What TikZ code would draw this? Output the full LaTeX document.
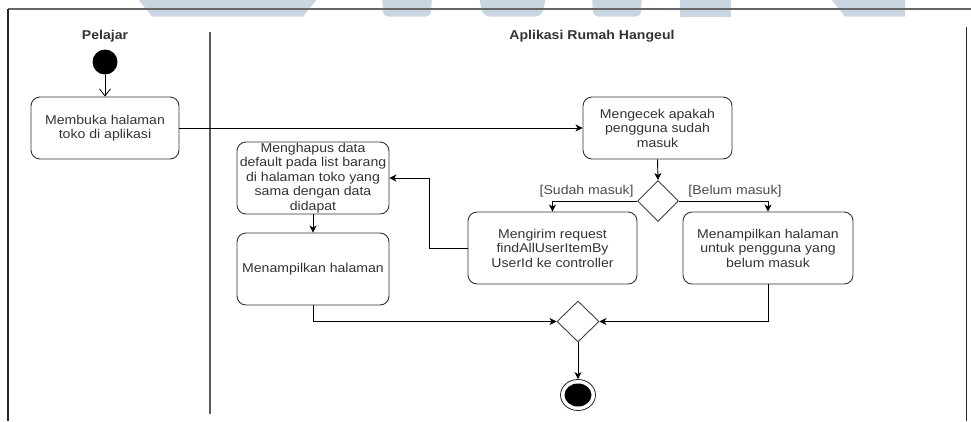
\documentclass[tikz,border=0pt]{standalone}
\usepackage{fontspec}
\setmainfont{Liberation Sans}[FakeStretch=1.1]
\usetikzlibrary{shapes.geometric,arrows.meta}
\definecolor{wm}{HTML}{C9D6E1}
\definecolor{txt}{HTML}{333333}
\begin{document}
\begin{tikzpicture}[x=1pt,y=-1pt,
  every node/.style={font=\fontsize{12.8}{14.5}\selectfont, text=txt},
  act/.style={draw=black!80, line width=0.9pt, rounded corners=9pt, align=center, inner sep=1pt},
  dec/.style={diamond, draw=black!75, line width=0.9pt, inner sep=0pt, minimum width=41pt, minimum height=41pt, fill=white},
  flow/.style={draw=black, line width=0.9pt, -{Stealth[length=7pt,width=7pt,inset=2pt]}},
  lbl/.style={inner sep=2pt, text=black!70},
  lanetitle/.style={font=\fontsize{12.8}{14.5}\selectfont\bfseries, text=black!80},
  wmark/.style={fill=wm, draw=none}]
\useasboundingbox (0,0) rectangle (971,421);
% watermark
\begin{scope}
\clip (0,0) rectangle (971,421);
\fill[wmark] (137,-2) -- (318,-2) -- (303,16.5) -- (152,16.5) -- cycle;
\fill[wmark, rounded corners=5pt] (382,-8) -- (432,-8) -- (431,16.5) -- (383,16.5) -- cycle;
\fill[wmark, rounded corners=7pt] (478,-8) -- (547,-8) -- (542,16.5) -- (483,16.5) -- cycle;
\fill[wmark, rounded corners=5pt] (592,-8) -- (642,-8) -- (641,16.5) -- (593,16.5) -- cycle;
\fill[wmark] (680,-2) -- (731,-2) -- (731,16.5) -- (680,16.5) -- cycle;
\fill[wmark] (830,-2) -- (905,-2) -- (905,16.5) -- (845,16.5) -- cycle;
\end{scope}
% frame and lanes
\draw[black!60, line width=1.4pt] (8,9) -- (971,9);
\draw[black!85, line width=1.2pt] (8,9) -- (8,421);
\draw[black!85, line width=1.2pt] (966.5,27) -- (966.5,421);
\draw[black!65, line width=1.5pt] (210,32) -- (210,414);
% titles
\node[lanetitle] (t1) at (105,36) {Pelajar};
\node[lanetitle] (t2) at (592,36) {Aplikasi Rumah Hangeul};
% nodes
\node[circle, fill=black, inner sep=0pt, minimum size=25pt] (start) at (105,62) {};
\node[act, minimum width=148pt, minimum height=62pt] (membuka) at (105,128) {Membuka halaman\\toko di aplikasi};
\node[act, minimum width=149pt, minimum height=62pt] (mengecek) at (657.5,128) {Mengecek apakah\\pengguna sudah\\masuk};
\node[dec] (d1) at (658,201) {};
\node[act, minimum width=169pt, minimum height=72pt] (mengirim) at (552.5,248) {Mengirim request\\findAllUserItemBy\\UserId ke controller};
\node[act, minimum width=170pt, minimum height=72pt] (belum) at (768,248) {Menampilkan halaman\\untuk pengguna yang\\belum masuk};
\node[act, minimum width=152pt, minimum height=72pt, inner sep=0pt] (menghapus) at (313,178) {Menghapus data\\default pada list barang\\di halaman toko yang\\sama dengan data\\didapat};
\node[act, minimum width=152pt, minimum height=72pt] (tampil) at (313,269) {Menampilkan halaman};
\node[dec, minimum width=42pt] (d2) at (578,321.5) {};
\node[ellipse, draw=black!85, line width=0.8pt, fill=white, inner sep=0pt, minimum width=35pt, minimum height=31pt] (end) at (578,395) {};
\node[ellipse, fill=black, inner sep=0pt, minimum width=27pt, minimum height=23pt] (endin) at (end.center) {};
\coordinate (k1) at (429,248);
% connectors
\draw[black, line width=0.8pt, -{Straight Barb[length=7pt,width=11pt]}] (start) -- (membuka);
\draw[flow] (membuka.east) -- (mengecek.west);
\draw[flow] (mengecek.south) -- (d1.north);
\draw[flow] (d1.west) -| node[pos=0, anchor=south east, lbl, xshift=-1pt, yshift=1pt] {[Sudah masuk]} (mengirim.north);
\draw[flow] (d1.east) -| node[pos=0, anchor=south west, lbl, xshift=7pt, yshift=1pt] {[Belum masuk]} (belum.north);
\draw[flow] (mengirim.west) -- (k1) |- (menghapus.east);
\draw[flow] (menghapus.south) -- (tampil.north);
\draw[flow] (tampil.south) |- (d2.west);
\draw[flow] (belum.south) |- (d2.east);
\draw[flow] (d2.south) -- (end.north);
\end{tikzpicture}
\end{document}
